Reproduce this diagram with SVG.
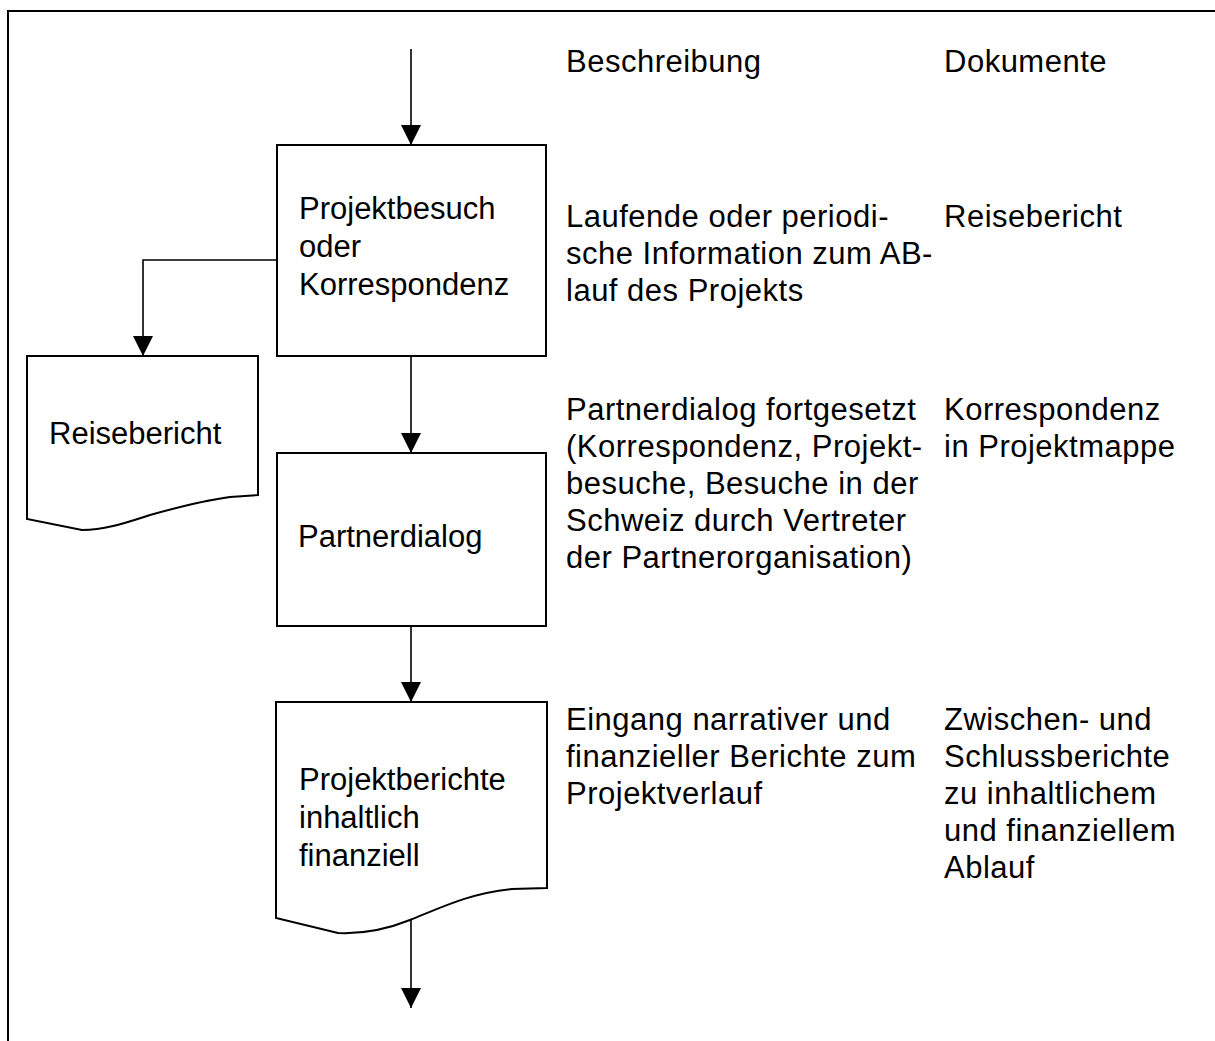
<svg xmlns="http://www.w3.org/2000/svg" width="1215" height="1041" viewBox="0 0 1215 1041">
  <style>
    .frame { fill: none; stroke: #000; stroke-width: 2; }
    .node { fill: #fff; stroke: #000; stroke-width: 2; stroke-linejoin: miter; }
    .edge { fill: none; stroke: #000; stroke-width: 1.6; }
    text { font-family: "Liberation Sans", Arial, sans-serif; font-size: 31px; fill: #000; }
    .col text { letter-spacing: 0.5px; }
  </style>
  <defs>
    <marker id="arrow" markerUnits="userSpaceOnUse" markerWidth="20" markerHeight="20" refX="20" refY="10" orient="auto">
      <path d="M0,0 L20,10 L0,20 Z" fill="#000"/>
    </marker>
  </defs>

  <rect width="1215" height="1041" fill="#fff"/>

  <!-- page frame: top and left rules only -->
  <path class="frame" d="M8,1041 V11 H1215"/>

  <!-- connectors -->
  <g id="connectors">
    <line class="edge" x1="411" y1="49" x2="411" y2="145" marker-end="url(#arrow)"/>
    <polyline class="edge" points="277,260 143,260 143,356" marker-end="url(#arrow)"/>
    <line class="edge" x1="411" y1="357" x2="411" y2="453" marker-end="url(#arrow)"/>
    <line class="edge" x1="411" y1="626" x2="411" y2="702" marker-end="url(#arrow)"/>
    <line class="edge" x1="411" y1="913" x2="411" y2="1008" marker-end="url(#arrow)"/>
  </g>

  <!-- process: Projektbesuch oder Korrespondenz -->
  <g id="node-projektbesuch">
    <rect class="node" x="277" y="145" width="269" height="211"/>
    <text x="299" y="219">Projektbesuch</text>
    <text x="299" y="257">oder</text>
    <text x="299" y="295">Korrespondenz</text>
  </g>

  <!-- document: Reisebericht -->
  <g id="node-reisebericht">
    <path class="node" d="M27,356 H258 V495 L230,497 C200,501 175,508 150,515 C125,523 105,530 82,530 L27,519 Z"/>
    <text x="49" y="444">Reisebericht</text>
  </g>

  <!-- process: Partnerdialog -->
  <g id="node-partnerdialog">
    <rect class="node" x="277" y="453" width="269" height="173"/>
    <text x="298" y="547">Partnerdialog</text>
  </g>

  <!-- document: Projektberichte -->
  <g id="node-projektberichte">
    <path class="node" d="M276,702 H547 V888 L512,889 C470,893 440,908 410,920 C385,930 360,934 338,933 L276,918 Z"/>
    <text x="299" y="790">Projektberichte</text>
    <text x="299" y="828">inhaltlich</text>
    <text x="299" y="866">finanziell</text>
  </g>

  <!-- column headings -->
  <g id="headings" class="col">
    <text x="566" y="72">Beschreibung</text>
    <text x="944" y="72">Dokumente</text>
  </g>

  <!-- description column -->
  <g id="descriptions" class="col">
    <text x="566" y="227">Laufende oder periodi-</text>
    <text x="566" y="264">sche Information zum AB-</text>
    <text x="566" y="301">lauf des Projekts</text>

    <text x="566" y="420">Partnerdialog fortgesetzt</text>
    <text x="566" y="457">(Korrespondenz, Projekt-</text>
    <text x="566" y="494">besuche, Besuche in der</text>
    <text x="566" y="531">Schweiz durch Vertreter</text>
    <text x="566" y="568">der Partnerorganisation)</text>

    <text x="566" y="730">Eingang narrativer und</text>
    <text x="566" y="767">finanzieller Berichte zum</text>
    <text x="566" y="804">Projektverlauf</text>
  </g>

  <!-- documents column -->
  <g id="documents" class="col">
    <text x="944" y="227">Reisebericht</text>

    <text x="944" y="420">Korrespondenz</text>
    <text x="944" y="457">in Projektmappe</text>

    <text x="944" y="730">Zwischen- und</text>
    <text x="944" y="767">Schlussberichte</text>
    <text x="944" y="804">zu inhaltlichem</text>
    <text x="944" y="841">und finanziellem</text>
    <text x="944" y="878">Ablauf</text>
  </g>
</svg>
